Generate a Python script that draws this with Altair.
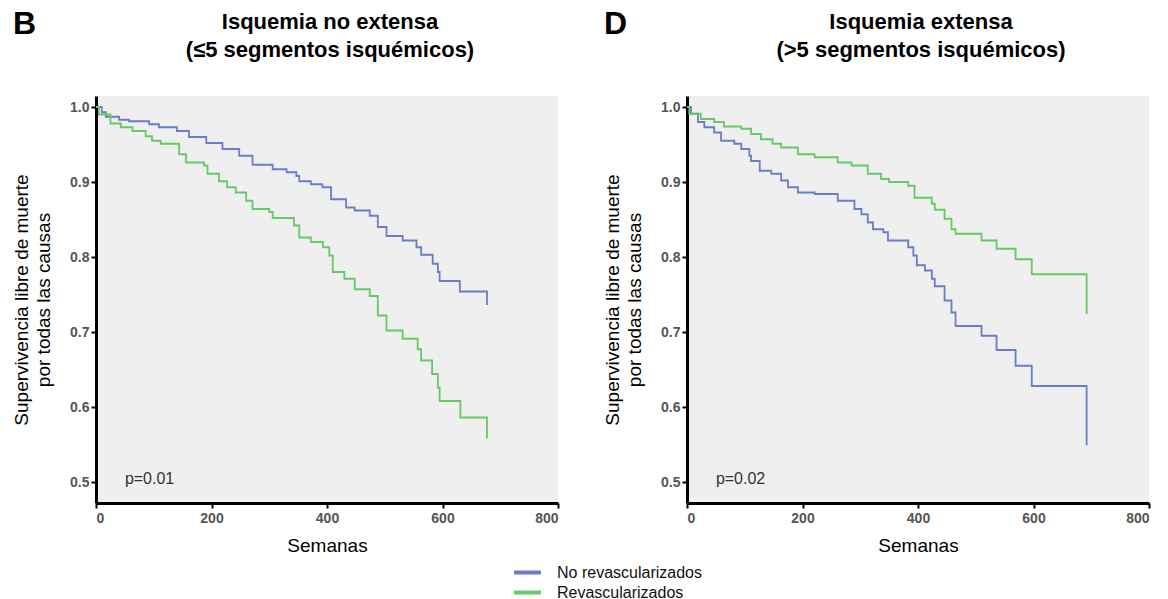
import altair as alt
import pandas as pd

FONT = "Liberation Sans"
groups = ["No revascularizados", "Revascularizados"]
colors = ["#6a7dc8", "#66c966"]

# Panel B: Isquemia no extensa
b_no_t = [0, 10, 17, 40, 57, 92, 109, 140, 161, 191, 219, 248, 271, 306, 330, 347, 352, 372, 392, 407,
          433, 448, 474, 488, 503, 531, 555, 563, 583, 592, 595, 630, 677]
b_no_s = [1.0, 0.993, 0.987, 0.983, 0.981, 0.977, 0.973, 0.968, 0.96, 0.952, 0.944, 0.935, 0.923, 0.917,
          0.913, 0.908, 0.901, 0.897, 0.893, 0.877, 0.866, 0.862, 0.855, 0.84, 0.828, 0.822, 0.813, 0.803,
          0.791, 0.78, 0.768, 0.754, 0.736]
b_re_t = [0, 5, 25, 43, 63, 86, 97, 112, 144, 156, 187, 193, 213, 227, 242, 260, 271, 300, 306, 343, 352,
          372, 393, 404, 410, 430, 448, 474, 488, 503, 531, 557, 563, 582, 592, 595, 631, 677]
b_re_s = [1.0, 0.99, 0.978, 0.973, 0.968, 0.961, 0.955, 0.951, 0.937, 0.926, 0.922, 0.911, 0.901, 0.893,
          0.886, 0.875, 0.864, 0.86, 0.852, 0.842, 0.826, 0.82, 0.813, 0.802, 0.78, 0.771, 0.757, 0.748,
          0.722, 0.702, 0.691, 0.677, 0.662, 0.644, 0.626, 0.608, 0.586, 0.558]

# Panel D: Isquemia extensa
d_no_t = [0, 7, 19, 30, 47, 59, 82, 94, 108, 111, 126, 146, 163, 175, 192, 221, 261, 290, 302, 313, 322,
          340, 348, 383, 392, 398, 412, 424, 429, 446, 458, 465, 510, 536, 569, 597, 692]
d_no_s = [1.0, 0.991, 0.98, 0.973, 0.966, 0.955, 0.951, 0.944, 0.935, 0.928, 0.915, 0.911, 0.902, 0.893,
          0.886, 0.884, 0.875, 0.864, 0.857, 0.846, 0.837, 0.833, 0.822, 0.813, 0.802, 0.789, 0.782, 0.771,
          0.761, 0.742, 0.726, 0.708, 0.695, 0.676, 0.655, 0.628, 0.549]
d_re_t = [0, 4, 24, 47, 64, 94, 111, 128, 148, 163, 192, 221, 261, 285, 313, 336, 350, 383, 394, 424, 429,
          446, 458, 465, 510, 536, 569, 597, 692]
d_re_s = [1.0, 0.991, 0.984, 0.98, 0.974, 0.971, 0.964, 0.957, 0.951, 0.946, 0.937, 0.933, 0.926, 0.922,
          0.911, 0.904, 0.9, 0.895, 0.879, 0.871, 0.863, 0.851, 0.837, 0.831, 0.822, 0.811, 0.797, 0.777,
          0.724]

letters = ["B", "D"]
titles = [["Isquemia no extensa", "(≤5 segmentos isquémicos)"],
          ["Isquemia extensa", "(>5 segmentos isquémicos)"]]
pvals = ["p=0.01", "p=0.02"]
pval_pos = [50, 0.504]

x_ticks = [0, 200, 400, 600, 800]
y_ticks = [0.5, 0.6, 0.7, 0.8, 0.9, 1.0]
y_title = ["Supervivencia libre de muerte", "por todas las causas"]

W, H = 462, 407


def curves_df(no_t, no_s, re_t, re_s):
    rows = []
    for t, s in zip(no_t, no_s):
        rows.append({"semanas": t, "superv": s, "grupo": groups[0]})
    for t, s in zip(re_t, re_s):
        rows.append({"semanas": t, "superv": s, "grupo": groups[1]})
    return pd.DataFrame(rows)


def panel(df, letter, title_lines, pval):
    lines = alt.Chart(df).mark_line(interpolate="step-after", strokeWidth=1.8).encode(
        x=alt.X("semanas:Q", scale=alt.Scale(domain=[0, 800], nice=False),
                axis=alt.Axis(values=x_ticks, title="Semanas", labelPadding=3, titlePadding=11)),
        y=alt.Y("superv:Q", scale=alt.Scale(domain=[0.472, 1.0147], nice=False, zero=False),
                axis=alt.Axis(values=y_ticks, format=".1f", title=y_title, titlePadding=16,
                              labelPadding=2)),
        color=alt.Color("grupo:N", scale=alt.Scale(domain=groups, range=colors),
                        legend=alt.Legend(title=None, orient="none", legendX=422, legendY=467,
                                          direction="vertical", symbolType="M-1.9,0H1.9",
                                          symbolStrokeWidth=4, symbolSize=200,
                                          labelFont=FONT, labelFontSize=16, labelColor="#111",
                                          rowPadding=2, labelOffset=20)),
    )
    ptxt = alt.Chart(pd.DataFrame({"semanas": [pval_pos[0]], "superv": [pval_pos[1]], "t": [pval]})).mark_text(
        align="left", baseline="middle", font=FONT, fontSize=16, color="#333"
    ).encode(x="semanas:Q", y="superv:Q", text="t:N")
    let = alt.Chart(pd.DataFrame({"t": [letter]})).mark_text(
        align="left", baseline="middle", font=FONT, fontSize=32, fontWeight="bold", color="black"
    ).encode(text="t:N", x=alt.value(-83), y=alt.value(-72))
    t1 = alt.Chart(pd.DataFrame({"t": [title_lines[0]]})).mark_text(
        align="center", baseline="middle", font=FONT, fontSize=22, fontWeight="bold", color="black"
    ).encode(text="t:N", x=alt.value(234), y=alt.value(-74))
    t2 = alt.Chart(pd.DataFrame({"t": [title_lines[1]]})).mark_text(
        align="center", baseline="middle", font=FONT, fontSize=22, fontWeight="bold", color="black"
    ).encode(text="t:N", x=alt.value(234), y=alt.value(-46))
    return alt.layer(lines, ptxt, let, t1, t2).properties(width=W, height=H)


left = panel(curves_df(b_no_t, b_no_s, b_re_t, b_re_s), letters[0], titles[0], pvals[0])
right = panel(curves_df(d_no_t, d_no_s, d_re_t, d_re_s), letters[1], titles[1], pvals[1])

chart = alt.hconcat(left, right, spacing=44).properties(
    padding={"left": 12, "top": 8, "right": 5, "bottom": 5}
).configure_view(fill="#efefef", strokeWidth=0).configure_axis(
    domainColor="black", domainWidth=3, tickColor="black", tickWidth=2, tickSize=5,
    labelFont=FONT, labelFontSize=14, labelFontWeight="bold", labelColor="#555",
    titleFont=FONT, titleFontSize=19, titleFontWeight="normal", titleColor="black",
    titleLineHeight=22, grid=False
)

chart.save("out.html", embed_options={"renderer": "svg", "actions": False})
